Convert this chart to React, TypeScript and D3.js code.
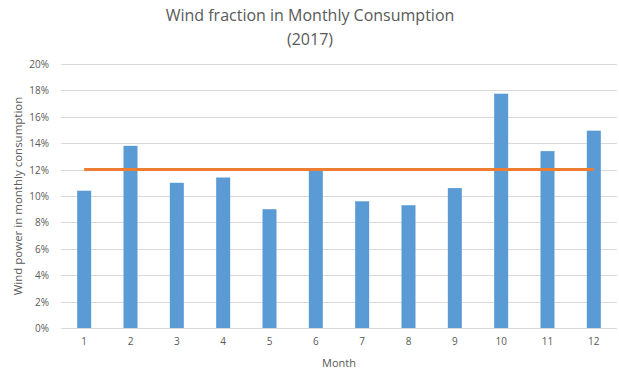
import React, { useEffect, useRef } from 'react';
import * as d3 from 'd3';

const months = ['1', '2', '3', '4', '5', '6', '7', '8', '9', '10', '11', '12'];
const windFraction = [0.104, 0.138, 0.110, 0.114, 0.090, 0.119, 0.096, 0.093, 0.106, 0.1775, 0.134, 0.1495];
const average = [0.12, 0.12, 0.12, 0.12, 0.12, 0.12, 0.12, 0.12, 0.12, 0.12, 0.12, 0.12];
const yTicks = [0, 0.02, 0.04, 0.06, 0.08, 0.1, 0.12, 0.14, 0.16, 0.18, 0.2];

const W = 619;
const H = 374;
const margin = { top: 64, right: 2, bottom: 46, left: 61 };
const FONT = "'Open Sans', 'Liberation Sans', sans-serif";

const App = () => {
  const ref = useRef<SVGSVGElement>(null);

  useEffect(() => {
    const svg = d3.select(ref.current);
    svg.selectAll('*').remove();

    const x = d3.scaleBand().domain(months).range([margin.left, W - margin.right]);
    const y = d3.scaleLinear().domain([0, 0.2]).range([H - margin.bottom, margin.top]);
    const barW = 14;

    // gridlines
    svg.append('g')
      .selectAll('line')
      .data(yTicks)
      .enter().append('line')
      .attr('x1', margin.left)
      .attr('x2', W - margin.right)
      .attr('y1', d => Math.round(y(d)) + 0.5)
      .attr('y2', d => Math.round(y(d)) + 0.5)
      .attr('stroke', '#d9d9d9')
      .attr('stroke-width', 1);

    // y tick labels
    svg.append('g')
      .selectAll('text')
      .data(yTicks)
      .enter().append('text')
      .attr('x', 49)
      .attr('y', d => y(d) + 4)
      .attr('text-anchor', 'end')
      .attr('font-size', 10)
      .attr('fill', '#595959')
      .attr('font-family', FONT)
      .text(d => d3.format('.0%')(d));

    // bars
    svg.append('g')
      .selectAll('rect')
      .data(windFraction)
      .enter().append('rect')
      .attr('x', (d, i) => x(months[i])! + x.bandwidth() / 2 - barW / 2)
      .attr('y', d => y(d))
      .attr('width', barW)
      .attr('height', d => y(0) - y(d))
      .attr('fill', '#5b9bd5');

    // average line
    const line = d3.line<number>()
      .x((d, i) => x(months[i])! + x.bandwidth() / 2)
      .y(d => y(d));
    svg.append('path')
      .datum(average)
      .attr('d', line)
      .attr('fill', 'none')
      .attr('stroke', '#ed7d31')
      .attr('stroke-width', 3);

    // x tick labels
    svg.append('g')
      .selectAll('text')
      .data(months)
      .enter().append('text')
      .attr('x', d => x(d)! + x.bandwidth() / 2)
      .attr('y', H - margin.bottom + 17)
      .attr('text-anchor', 'middle')
      .attr('font-size', 10)
      .attr('fill', '#595959')
      .attr('font-family', FONT)
      .text(d => d);

    // axis titles
    svg.append('text')
      .attr('x', (margin.left + W - margin.right) / 2)
      .attr('y', 367)
      .attr('text-anchor', 'middle')
      .attr('font-size', 11)
      .attr('fill', '#595959')
      .attr('font-family', FONT)
      .text('Month');

    svg.append('text')
      .attr('transform', `translate(22,${(margin.top + H - margin.bottom) / 2}) rotate(-90)`)
      .attr('text-anchor', 'middle')
      .attr('font-size', 11.5)
      .attr('fill', '#595959')
      .attr('font-family', FONT)
      .text('Wind power in monthly consumption');

    // title
    const title = svg.append('text')
      .attr('text-anchor', 'middle')
      .attr('font-size', 16)
      .attr('fill', '#595959')
      .attr('font-family', FONT);
    title.append('tspan').attr('x', 310).attr('y', 21).text('Wind fraction in Monthly Consumption');
    title.append('tspan').attr('x', 310).attr('y', 45).text('(2017)');
  }, []);

  return (
    <svg ref={ref} width={W} height={H} style={{ position: 'absolute', left: 0, top: 0, background: '#fff' }} />
  );
};

export default App;
